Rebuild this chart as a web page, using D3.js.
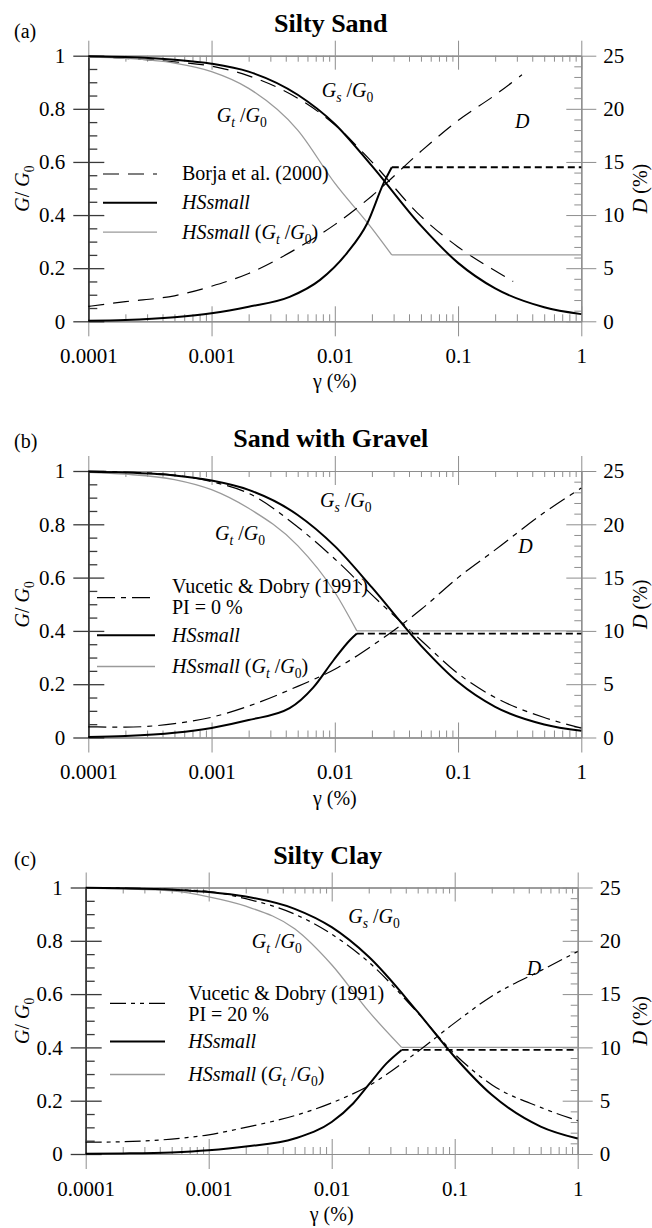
<!DOCTYPE html>
<html>
<head>
<meta charset="utf-8">
<script src="https://cdn.jsdelivr.net/npm/d3@7"></script>
<style>
  body { margin: 0; background: #fff; }
  svg text { font-family: "Liberation Serif", "DejaVu Serif", serif; }
</style>
</head>
<body>
<svg id="chart" width="652" height="1228"></svg>
<script>
// shear strain levels (%) used by most curves
const gammaStd = [0.0001, 0.0002, 0.0005, 0.001, 0.002, 0.005, 0.01, 0.02, 0.05, 0.1, 0.2, 0.5, 1];

const xTickValues = [0.0001, 0.001, 0.01, 0.1, 1];
const xTickLabels = ['0.0001', '0.001', '0.01', '0.1', '1'];
const gTickValues = [0, 0.2, 0.4, 0.6, 0.8, 1];
const gTickLabels = ['0', '0.2', '0.4', '0.6', '0.8', '1'];
const dTickValues = [0, 5, 10, 15, 20, 25];

// (a) Silty Sand
const aHsG = [0.998, 0.995, 0.985, 0.97, 0.94, 0.853, 0.743, 0.585, 0.36, 0.22, 0.124, 0.053, 0.027];
const aHsGtGamma = [0.0001, 0.0002, 0.0005, 0.001, 0.002, 0.005, 0.01, 0.02, 0.029];
const aHsGt = [0.995, 0.99, 0.972, 0.94, 0.877, 0.72, 0.52, 0.35, 0.25];
const aGtFlatGamma = [0.029, 1];
const aGtFlat = [0.25, 0.25];
const aBorjaGamma = [0.0001, 0.0002, 0.0005, 0.001, 0.002, 0.005, 0.01, 0.02, 0.05, 0.1, 0.2, 0.28];
const aBorjaG = [0.996, 0.99, 0.977, 0.961, 0.924, 0.84, 0.74, 0.6, 0.395, 0.28, 0.19, 0.15];
const aBorjaDGamma = [0.0001, 0.0002, 0.0005, 0.001, 0.002, 0.005, 0.01, 0.02, 0.05, 0.1, 0.2, 0.33];
const aBorjaD = [1.4, 1.85, 2.4, 3.3, 4.5, 6.9, 9.1, 11.8, 16.0, 18.9, 21.3, 23.2];
const aHsDGamma = [0.0001, 0.0002, 0.0005, 0.001, 0.002, 0.0043, 0.0076, 0.0125, 0.0183, 0.0249, 0.029];
const aHsD = [0.05, 0.12, 0.38, 0.75, 1.37, 2.3, 3.9, 6.4, 9.2, 13.0, 14.5];
const aCutGamma = [0.029, 1];
const aCutD = [14.5, 14.5];

// (b) Sand with Gravel
const bHsG = [0.997, 0.994, 0.983, 0.964, 0.929, 0.835, 0.718, 0.563, 0.345, 0.208, 0.115, 0.049, 0.025];
const bHsGtGamma = [0.0001, 0.0002, 0.0005, 0.001, 0.002, 0.005, 0.01, 0.0151];
const bHsGt = [0.995, 0.988, 0.968, 0.93, 0.86, 0.72, 0.545, 0.40];
const bGtFlatGamma = [0.0151, 1];
const bGtFlat = [0.40, 0.40];
const bVdG = [1.0, 0.996, 0.985, 0.96, 0.916, 0.79, 0.67, 0.535, 0.365, 0.24, 0.15, 0.075, 0.035];
const bVdD = [1.0, 0.97, 1.3, 1.9, 2.95, 4.8, 6.4, 8.6, 12.0, 15.0, 17.6, 21.1, 23.4];
const bHsDGamma = [0.0001, 0.0002, 0.0005, 0.001, 0.002, 0.0043, 0.0067, 0.0097, 0.0133, 0.0151];
const bHsD = [0.05, 0.15, 0.45, 0.9, 1.64, 2.75, 4.7, 7.2, 9.15, 9.75];
const bCutGamma = [0.0151, 1];
const bCutD = [9.75, 9.75];

// (c) Silty Clay
const cHsG = [0.999, 0.997, 0.992, 0.983, 0.966, 0.92, 0.851, 0.74, 0.533, 0.364, 0.222, 0.103, 0.058];
const cHsGtGamma = [0.0001, 0.0002, 0.0005, 0.001, 0.002, 0.005, 0.01, 0.02, 0.037];
const cHsGt = [0.998, 0.995, 0.987, 0.965, 0.93, 0.845, 0.71, 0.535, 0.40];
const cGtFlatGamma = [0.037, 1];
const cGtFlat = [0.40, 0.40];
const cVdG = [1.0, 0.998, 0.993, 0.985, 0.958, 0.90, 0.825, 0.72, 0.53, 0.375, 0.26, 0.175, 0.125];
const cVdD = [1.1, 1.15, 1.4, 1.8, 2.5, 3.6, 4.8, 6.4, 9.6, 12.3, 14.8, 17.2, 19.0];
const cHsDGamma = [0.0001, 0.0002, 0.0005, 0.001, 0.002, 0.005, 0.01, 0.015, 0.02, 0.0279, 0.037];
const cHsD = [0.02, 0.05, 0.15, 0.35, 0.7, 1.45, 3.0, 4.76, 6.5, 8.5, 9.76];
const cCutGamma = [0.037, 1];
const cCutD = [9.76, 9.76];

const zip = (xs, ys) => xs.map((g, i) => [g, ys[i]]);

// line styles
const STYLE = {
    hs: {stroke: '#000', width: 2, dash: null},
    hsGt: {stroke: '#9a9a9a', width: 1.3, dash: null},
    cut: {stroke: '#000', width: 1.8, dash: '7,4'},
    borja: {stroke: '#000', width: 1.2, dash: '16,9'},
    vd0: {stroke: '#000', width: 1.2, dash: '18,6,5,6'},
    vd20: {stroke: '#000', width: 1.2, dash: '16,5,4,5,4,5'}
};

// rich text pieces
const GsG0 = [{t: 'G', i: 1}, {t: 's', i: 1, sub: 1}, {t: ' /'}, {t: 'G', i: 1}, {t: '0', sub: 1}];
const GtG0 = [{t: 'G', i: 1}, {t: 't', i: 1, sub: 1}, {t: ' /'}, {t: 'G', i: 1}, {t: '0', sub: 1}];
const HsGtText = [{t: 'HSsmall ', i: 1}, {t: '('}, {t: 'G', i: 1}, {t: 't', i: 1, sub: 1}, {t: ' /'}, {t: 'G', i: 1}, {t: '0', sub: 1}, {t: ')'}];

const panels = [
    {
        tag: '(a)', title: 'Silty Sand', left: 88.3, right: 581.3, top: 55.7, height: 265.6, tagDy: -18,
        gSeries: [
            {pts: zip(aBorjaGamma, aBorjaG), s: STYLE.borja},
            {pts: zip(aHsGtGamma, aHsGt), s: STYLE.hsGt},
            {pts: zip(aGtFlatGamma, aGtFlat), s: STYLE.hsGt, linear: true},
            {pts: zip(gammaStd, aHsG), s: STYLE.hs}
        ],
        dSeries: [
            {pts: zip(aBorjaDGamma, aBorjaD), s: STYLE.borja},
            {pts: zip(aHsDGamma, aHsD), s: STYLE.hs},
            {pts: zip(aCutGamma, aCutD), s: STYLE.cut, linear: true}
        ],
        labels: [{x: 233.4, y: 41, segs: GsG0}, {x: 128.4, y: 66, segs: GtG0}, {x: 426.7, y: 72.6, segs: [{t: 'D', i: 1}]}],
        legend: {x0: 14.7, x1: 68.7, tx: 93.7, rows: [
            {y: 124.3, ly: 118.3, s: STYLE.borja, lines: [[{t: 'Borja et al. (2000)'}]]},
            {y: 153.6, ly: 147, s: STYLE.hs, lines: [[{t: 'HSsmall', i: 1}]]},
            {y: 183.6, ly: 176.5, s: STYLE.hsGt, lines: [HsGtText]}
        ]}
    },
    {
        tag: '(b)', title: 'Sand with Gravel', left: 88.3, right: 581.3, top: 471, height: 266.5, tagDy: -23.5,
        gSeries: [
            {pts: zip(gammaStd, bVdG), s: STYLE.vd0},
            {pts: zip(bHsGtGamma, bHsGt), s: STYLE.hsGt},
            {pts: zip(bGtFlatGamma, bGtFlat), s: STYLE.hsGt, linear: true},
            {pts: zip(gammaStd, bHsG), s: STYLE.hs}
        ],
        dSeries: [
            {pts: zip(gammaStd, bVdD), s: STYLE.vd0},
            {pts: zip(bHsDGamma, bHsD), s: STYLE.hs},
            {pts: zip(bCutGamma, bCutD), s: STYLE.cut, linear: true}
        ],
        labels: [{x: 231.7, y: 35.7, segs: GsG0}, {x: 126.7, y: 69, segs: GtG0}, {x: 430, y: 82.3, segs: [{t: 'D', i: 1}]}],
        legend: {x0: 8.7, x1: 66.7, tx: 83.7, rows: [
            {y: 122, ly: 126.7, s: STYLE.vd0, lines: [[{t: 'Vucetic & Dobry (1991)'}], [{t: 'PI = 0 %'}]]},
            {y: 170.7, ly: 164.2, s: STYLE.hs, lines: [[{t: 'HSsmall', i: 1}]]},
            {y: 202, ly: 195.5, s: STYLE.hsGt, lines: [HsGtText]}
        ]}
    },
    {
        tag: '(c)', title: 'Silty Clay', left: 85.7, right: 577.7, top: 887.5, height: 266.5, tagDy: -22,
        gSeries: [
            {pts: zip(gammaStd, cVdG), s: STYLE.vd20},
            {pts: zip(cHsGtGamma, cHsGt), s: STYLE.hsGt},
            {pts: zip(cGtFlatGamma, cGtFlat), s: STYLE.hsGt, linear: true},
            {pts: zip(gammaStd, cHsG), s: STYLE.hs}
        ],
        dSeries: [
            {pts: zip(gammaStd, cVdD), s: STYLE.vd20},
            {pts: zip(cHsDGamma, cHsD), s: STYLE.hs},
            {pts: zip(cCutGamma, cCutD), s: STYLE.cut, linear: true}
        ],
        labels: [{x: 262.6, y: 35.8, segs: GsG0}, {x: 166, y: 60.8, segs: GtG0}, {x: 441, y: 87.5, segs: [{t: 'D', i: 1}]}],
        legend: {x0: 24.3, x1: 79.3, tx: 102.6, rows: [
            {y: 112, ly: 115.8, s: STYLE.vd20, lines: [[{t: 'Vucetic & Dobry (1991)'}], [{t: 'PI = 20 %'}]]},
            {y: 160.5, ly: 154, s: STYLE.hs, lines: [[{t: 'HSsmall', i: 1}]]},
            {y: 193.5, ly: 187, s: STYLE.hsGt, lines: [HsGtText]}
        ]}
    }
];

const svg = d3.select('#chart');

// writes text made of italic / subscript pieces
function richText(sel, x, y, segs, size = 20) {
    let t = sel.append('text').attr('x', x).attr('y', y).attr('font-size', size).attr('fill', '#000');
    let shift = 0;
    segs.forEach(s => {
        let want = s.sub ? 5 : 0;
        let ts = t.append('tspan').text(s.t).attr('dy', want - shift);
        if (s.i) ts.attr('font-style', 'italic');
        if (s.sub) ts.attr('font-size', size * 0.68);
        shift = want;
    });
    return t;
}

function styleAxis(g, color, width) {
    g.attr('font-size', 21).attr('font-family', '"Liberation Serif", "DejaVu Serif", serif');
    g.selectAll('path, line').attr('stroke', color).attr('stroke-width', width);
    g.selectAll('text').attr('fill', '#000');
}

function drawPanel(p) {
    const w = p.right - p.left, h = p.height;
    const x = d3.scaleLog().domain([0.0001, 1]).range([0, w]);
    const y = d3.scaleLinear().domain([0, 1]).range([h, 0]);
    const yD = d3.scaleLinear().domain([0, 25]).range([h, 0]);

    const g = svg.append('g').attr('transform', `translate(${p.left},${p.top})`);

    const minorX = [];
    [0.0001, 0.001, 0.01, 0.1].forEach(dec => {
        for (let k = 2; k <= 9; k++) minorX.push(dec * k);
    });
    const minorG = d3.range(0, 21).map(i => i * 0.05).filter(v => Math.round(v * 100) % 20 !== 0);
    const minorD = d3.range(0, 26).filter(v => v % 5 !== 0);

    const grey = '#8e8e8e';

    // top axis
    styleAxis(g.append('g').call(d3.axisTop(x).tickValues(xTickValues).tickSize(15).tickSizeOuter(0).tickFormat('')), grey, 1);
    styleAxis(g.append('g').call(d3.axisTop(x).tickValues(xTickValues).tickSize(-14).tickSizeOuter(0).tickFormat('')), grey, 1);
    styleAxis(g.append('g').call(d3.axisTop(x).tickValues(minorX).tickSize(-6).tickSizeOuter(0).tickFormat('')), grey, 1);

    // bottom axis
    const fmtX = d => xTickLabels[xTickValues.indexOf(d)];
    styleAxis(g.append('g').attr('transform', `translate(0,${h})`)
        .call(d3.axisBottom(x).tickValues(xTickValues).tickSize(15).tickSizeOuter(0).tickPadding(12).tickFormat(fmtX)), grey, 1);
    styleAxis(g.append('g').attr('transform', `translate(0,${h})`)
        .call(d3.axisBottom(x).tickValues(xTickValues).tickSize(-15).tickSizeOuter(0).tickFormat('')), grey, 1);
    styleAxis(g.append('g').attr('transform', `translate(0,${h})`)
        .call(d3.axisBottom(x).tickValues(minorX).tickSize(-7).tickSizeOuter(0).tickFormat('')), grey, 1);

    // right axis (damping)
    styleAxis(g.append('g').attr('transform', `translate(${w},0)`)
        .call(d3.axisRight(yD).tickValues(dTickValues).tickSize(15).tickSizeOuter(0).tickPadding(7).tickFormat(d3.format('d'))), grey, 1);
    styleAxis(g.append('g').attr('transform', `translate(${w},0)`)
        .call(d3.axisRight(yD).tickValues(dTickValues).tickSize(-15).tickSizeOuter(0).tickFormat('')), grey, 1);
    styleAxis(g.append('g').attr('transform', `translate(${w},0)`)
        .call(d3.axisRight(yD).tickValues(minorD).tickSize(-7).tickSizeOuter(0).tickFormat('')), grey, 1);

    // left axis (G/G0)
    const fmtG = d => gTickLabels[gTickValues.indexOf(d)];
    styleAxis(g.append('g').call(d3.axisLeft(y).tickValues(gTickValues).tickSize(15).tickSizeOuter(0).tickPadding(8).tickFormat(fmtG)), '#3a3a3a', 1.3);
    styleAxis(g.append('g').call(d3.axisLeft(y).tickValues(gTickValues).tickSize(-16).tickSizeOuter(0).tickFormat('')), '#3a3a3a', 1.3);
    styleAxis(g.append('g').call(d3.axisLeft(y).tickValues(minorG).tickSize(-9).tickSizeOuter(0).tickFormat('')), '#3a3a3a', 1.3);

    // curves
    const lineG = d3.line().x(d => x(d[0])).y(d => y(d[1]));
    const lineD = d3.line().x(d => x(d[0])).y(d => yD(d[1]));
    const drawSeries = (arr, gen) => arr.forEach(sr => {
        g.append('path')
            .attr('d', gen.curve(sr.linear ? d3.curveLinear : d3.curveMonotoneX)(sr.pts))
            .attr('fill', 'none')
            .attr('stroke', sr.s.stroke)
            .attr('stroke-width', sr.s.width)
            .attr('stroke-dasharray', sr.s.dash);
    });
    drawSeries(p.gSeries, lineG);
    drawSeries(p.dSeries, lineD);

    // curve labels
    p.labels.forEach(l => richText(g, l.x, l.y, l.segs));

    // legend
    const lg = p.legend;
    lg.rows.forEach(r => {
        g.append('line').attr('x1', lg.x0).attr('x2', lg.x1).attr('y1', r.ly).attr('y2', r.ly)
            .attr('stroke', r.s.stroke).attr('stroke-width', r.s.width).attr('stroke-dasharray', r.s.dash);
        r.lines.forEach((segs, i) => richText(g, lg.tx, r.y + i * 21, segs));
    });

    // titles and axis labels
    svg.append('text').attr('x', (p.left + p.right) / 2 - 4).attr('y', p.top - 24)
        .attr('text-anchor', 'middle').attr('font-size', 26).attr('font-weight', 'bold').text(p.title);
    svg.append('text').attr('x', 14).attr('y', p.top + p.tagDy).attr('font-size', 20).text(p.tag);

    richText(g, w / 2, h + 67, [{t: 'γ (%)'}]).attr('text-anchor', 'middle');
    richText(g, 0, 0, [{t: 'G', i: 1}, {t: '/ '}, {t: 'G', i: 1}, {t: '0', sub: 1}])
        .attr('text-anchor', 'middle').attr('transform', `translate(${29 - p.left},${h / 2}) rotate(-90)`);
    richText(g, 0, 0, [{t: 'D', i: 1}, {t: ' (%)'}])
        .attr('text-anchor', 'middle').attr('transform', `translate(${647 - p.left},${h / 2}) rotate(-90)`);
}

panels.forEach(drawPanel);
</script>
</body>
</html>
